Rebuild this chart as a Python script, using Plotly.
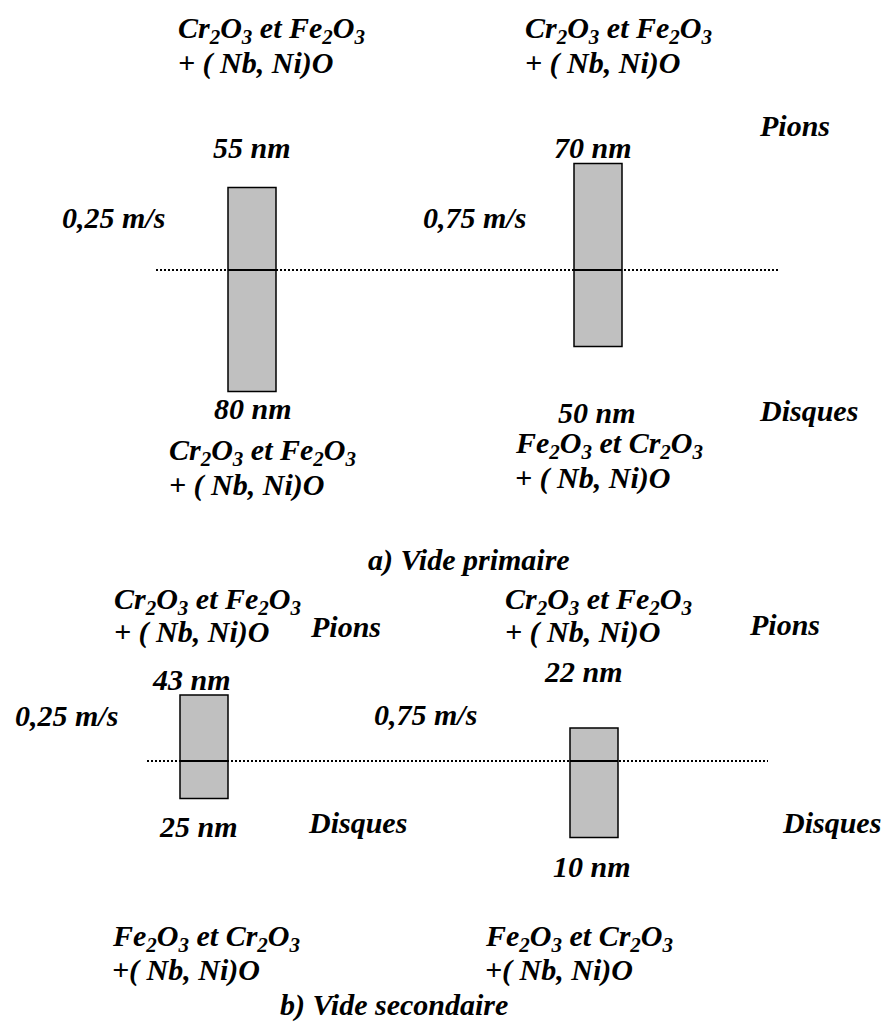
import plotly.graph_objects as go

# a) Vide primaire : épaisseurs lues (nm) et longueurs tracées des barres
vitesses_a = ["0,25 m/s", "0,75 m/s"]
pions_a = [55, 70]
disques_a = [80, 50]
haut_a = [55, 71]   # longueur tracée au-dessus de la ligne
bas_a = [81, 51]    # longueur tracée au-dessous

# b) Vide secondaire
vitesses_b = ["0,25 m/s", "0,75 m/s"]
pions_b = [43, 22]
disques_b = [25, 10]
haut_b = [44, 22]
bas_b = [25, 51]

x_barres_a = [252, 598]
x_barres_b = [204, 594]

oxyde_cr_fe = "Cr<sub>2</sub>O<sub>3</sub> et Fe<sub>2</sub>O<sub>3</sub>"
oxyde_fe_cr = "Fe<sub>2</sub>O<sub>3</sub> et Cr<sub>2</sub>O<sub>3</sub>"

police = dict(family="Times New Roman, Liberation Serif, serif", size=30, color="black",
              weight="bold", style="italic")

fig = go.Figure()

# lignes pointillées
fig.add_trace(go.Scatter(x=[156, 778], y=[0, 0], yaxis="y", mode="lines",
                         line=dict(color="black", width=2, dash="2px,2px"),
                         hoverinfo="skip", showlegend=False))
fig.add_trace(go.Scatter(x=[147, 768], y=[0, 0], yaxis="y2", mode="lines",
                         line=dict(color="black", width=2, dash="2px,2px"),
                         hoverinfo="skip", showlegend=False))

# barres (base = -bas, hauteur = haut + bas)
for xs, h, b, ax in [(x_barres_a, haut_a, bas_a, "y"), (x_barres_b, haut_b, bas_b, "y2")]:
    fig.add_trace(go.Bar(
        x=xs, y=[hh + bb for hh, bb in zip(h, b)], base=[-bb for bb in b],
        width=48, yaxis=ax,
        marker=dict(color="#c0c0c0", line=dict(color="black", width=1.5)),
        hoverinfo="skip", showlegend=False
    ))
    # trait plein au milieu de chaque barre
    for xc in xs:
        fig.add_trace(go.Scatter(
            x=[xc - 24, xc + 24], y=[0, 0], yaxis=ax, mode="lines",
            line=dict(color="black", width=2), hoverinfo="skip", showlegend=False
        ))


def texte(x, y, t, ancre="left"):
    fig.add_annotation(x=x, y=y, xref="x", yref="y3", text=t, showarrow=False,
                       xanchor=ancre, yanchor="middle", font=police)


# --- a) Vide primaire ---
texte(176, 30, oxyde_cr_fe)
texte(176, 63, "+ ( Nb, Ni)O")
texte(523, 30, oxyde_cr_fe)
texte(523, 63, "+ ( Nb, Ni)O")
texte(757, 125, "Pions")
texte(252, 147, f"{pions_a[0]} nm", "center")
texte(593, 147, f"{pions_a[1]} nm", "center")
texte(60, 217, vitesses_a[0])
texte(421, 217, vitesses_a[1])
texte(253, 408, f"{disques_a[0]} nm", "center")
texte(597, 412, f"{disques_a[1]} nm", "center")
texte(757, 410, "Disques")
texte(167, 452, oxyde_cr_fe)
texte(167, 485, "+ ( Nb, Ni)O")
texte(513, 445, oxyde_fe_cr)
texte(513, 478, "+ ( Nb, Ni)O")
texte(469, 560, "a) Vide primaire", "center")

# --- b) Vide secondaire ---
texte(112, 601, oxyde_cr_fe)
texte(112, 632, "+ ( Nb, Ni)O")
texte(308, 626, "Pions")
texte(503, 601, oxyde_cr_fe)
texte(503, 632, "+ ( Nb, Ni)O")
texte(747, 624, "Pions")
texte(191, 679, f"{pions_b[0]} nm", "center")
texte(583, 671, f"{pions_b[1]} nm", "center")
texte(13, 715, vitesses_b[0])
texte(372, 714, vitesses_b[1])
texte(198, 826, f"{disques_b[0]} nm", "center")
texte(306, 822, "Disques")
texte(780, 822, "Disques")
texte(592, 866, f"{disques_b[1]} nm", "center")
texte(110, 938, oxyde_fe_cr)
texte(110, 970, "+( Nb, Ni)O")
texte(483, 938, oxyde_fe_cr)
texte(483, 970, "+( Nb, Ni)O")
texte(394, 1005, "b) Vide secondaire", "center")

axe_cache = dict(visible=False, showgrid=False, zeroline=False, fixedrange=True)
fig.update_layout(
    width=887, height=1029,
    margin=dict(l=0, r=0, t=0, b=0),
    paper_bgcolor="white", plot_bgcolor="white",
    barmode="overlay",
    xaxis=dict(range=[0, 887], **axe_cache),
    # 1,5 px par nm, ligne a) à y=270 px, ligne b) à y=761 px
    yaxis=dict(range=[(270 - 1029) / 1.5, 270 / 1.5], **axe_cache),
    yaxis2=dict(range=[(761 - 1029) / 1.5, 761 / 1.5], overlaying="y", **axe_cache),
    yaxis3=dict(range=[1029, 0], overlaying="y", **axe_cache),
    showlegend=False
)

fig.write_html("out.html", config={"displayModeBar": False},
               post_script="document.body.style.margin='0';")
